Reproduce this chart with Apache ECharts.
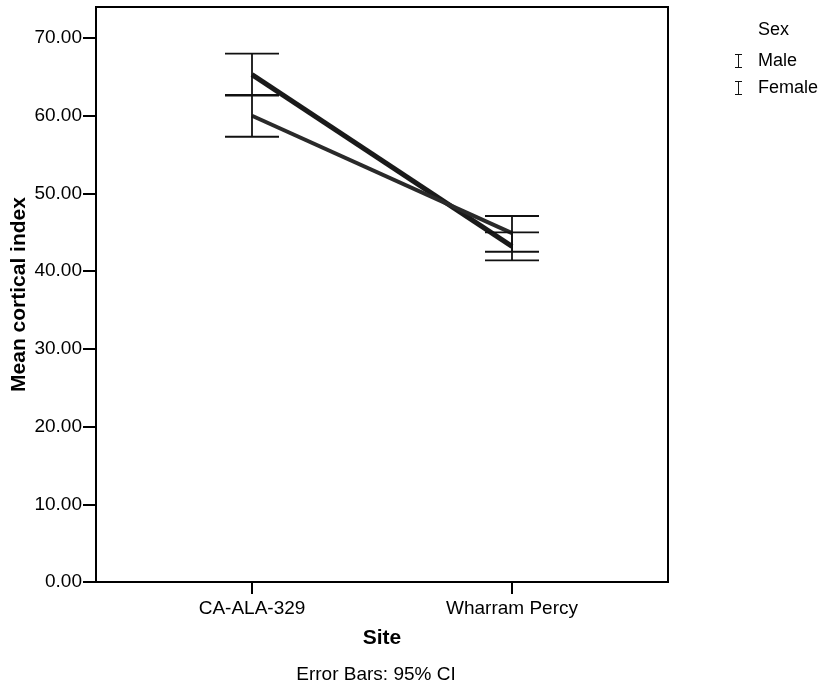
<!DOCTYPE html>
<html>
<head>
<meta charset="utf-8">
<script src="https://cdn.jsdelivr.net/npm/echarts@6/dist/echarts.min.js"></script>
<style>
  html, body { margin: 0; padding: 0; background: #fff; }
  #chart { width: 827px; height: 695px; }
</style>
</head>
<body>
<div id="chart"></div>
<script>
// data
var sites = ['CA-ALA-329', 'Wharram Percy'];
var sexes = ['Male', 'Female'];
var maleMean = [65.3, 43.2];
var maleLow = [62.6, 41.4];
var maleHigh = [68.0, 45.0];
var femaleMean = [60.0, 44.9];
var femaleLow = [57.3, 42.5];
var femaleHigh = [62.7, 47.1];
var yTicks = [0, 10, 20, 30, 40, 50, 60, 70];

var chart = echarts.init(document.getElementById('chart'));
var FONT = 'Liberation Sans, Arial, sans-serif';
var barIcon = 'path://M0,0H10V1.4H5.7V18.6H10V20H0V18.6H4.3V1.4H0Z';

function meanData(arr) {
    return arr.map(function(v, i) { return [i + 1, v]; });
}
function ciData(lo, hi) {
    return lo.map(function(v, i) { return [i + 1, v, hi[i]]; });
}

// error bar: vertical line plus two caps
function renderBar(params, api) {
    var p0 = api.coord([api.value(0), api.value(1)]);
    var p1 = api.coord([api.value(0), api.value(2)]);
    var half = 27;
    var style = { stroke: '#111', lineWidth: 1.8 };
    return {
        type: 'group',
        children: [
            { type: 'line', shape: { x1: p0[0], y1: p0[1], x2: p1[0], y2: p1[1] }, style: style },
            { type: 'line', shape: { x1: p0[0] - half, y1: p0[1], x2: p0[0] + half, y2: p0[1] }, style: style },
            { type: 'line', shape: { x1: p1[0] - half, y1: p1[1], x2: p1[0] + half, y2: p1[1] }, style: style }
        ]
    };
}

var option = {
    backgroundColor: '#fff',
    animation: false,
    textStyle: { fontFamily: FONT },
    grid: {
        left: 96, right: 159, top: 7, bottom: 113,
        outerBoundsMode: 'none', containLabel: false,
        show: true, borderColor: '#000', borderWidth: 2, backgroundColor: 'transparent'
    },
    legend: {
        data: sexes,
        orient: 'vertical',
        left: 735, top: 52, padding: 0,
        itemWidth: 7, itemHeight: 14, itemGap: 9,
        icon: barIcon,
        textStyle: { fontSize: 18, color: '#000', fontFamily: FONT, padding: [0, 0, 0, 11] }
    },
    xAxis: {
        type: 'value',
        min: 0.4, max: 2.6,
        name: 'Site', nameLocation: 'middle', nameGap: 46, nameMoveOverlap: false,
        nameTextStyle: { fontSize: 21, fontWeight: 'bold', color: '#000' },
        axisLine: { lineStyle: { color: '#000', width: 2 } },
        axisTick: { show: true, length: 12, customValues: [1, 2], lineStyle: { color: '#000', width: 2 } },
        axisLabel: {
            customValues: [1, 2], fontSize: 19, color: '#000', margin: 17,
            formatter: function(v) { return sites[Math.round(v) - 1] || ''; }
        },
        splitLine: { show: false }
    },
    yAxis: {
        type: 'value',
        min: 0, max: 74, interval: 10,
        name: 'Mean cortical index', nameLocation: 'middle', nameGap: 66, nameMoveOverlap: false,
        nameTextStyle: { fontSize: 21, fontWeight: 'bold', color: '#000' },
        axisLine: { show: true, lineStyle: { color: '#000', width: 2 } },
        axisTick: { show: true, length: 13, customValues: yTicks, lineStyle: { color: '#000', width: 2 } },
        axisLabel: {
            customValues: yTicks, fontSize: 19, color: '#000', margin: 14,
            formatter: function(v) { return v.toFixed(2); }
        },
        splitLine: { show: false }
    },
    graphic: [
        { type: 'text', left: 758, top: 21, style: { text: 'Sex', font: '18px ' + FONT, fill: '#000' } },
        { type: 'text', x: 376, y: 665, style: { text: 'Error Bars: 95% CI', font: '19px ' + FONT, fill: '#000', align: 'center' } }
    ],
    series: [
        {
            name: 'Male', type: 'line', data: meanData(maleMean),
            symbol: 'none', color: '#111',
            lineStyle: { color: '#1a1a1a', width: 5 }, z: 3
        },
        {
            name: 'Female', type: 'line', data: meanData(femaleMean),
            symbol: 'none', color: '#111',
            lineStyle: { color: '#2a2a2a', width: 4 }, z: 3
        },
        {
            name: 'Male', type: 'custom', renderItem: renderBar,
            data: ciData(maleLow, maleHigh), encode: { x: 0, y: [1, 2] }, z: 4
        },
        {
            name: 'Female', type: 'custom', renderItem: renderBar,
            data: ciData(femaleLow, femaleHigh), encode: { x: 0, y: [1, 2] }, z: 4
        }
    ]
};

chart.setOption(option);
</script>
</body>
</html>
